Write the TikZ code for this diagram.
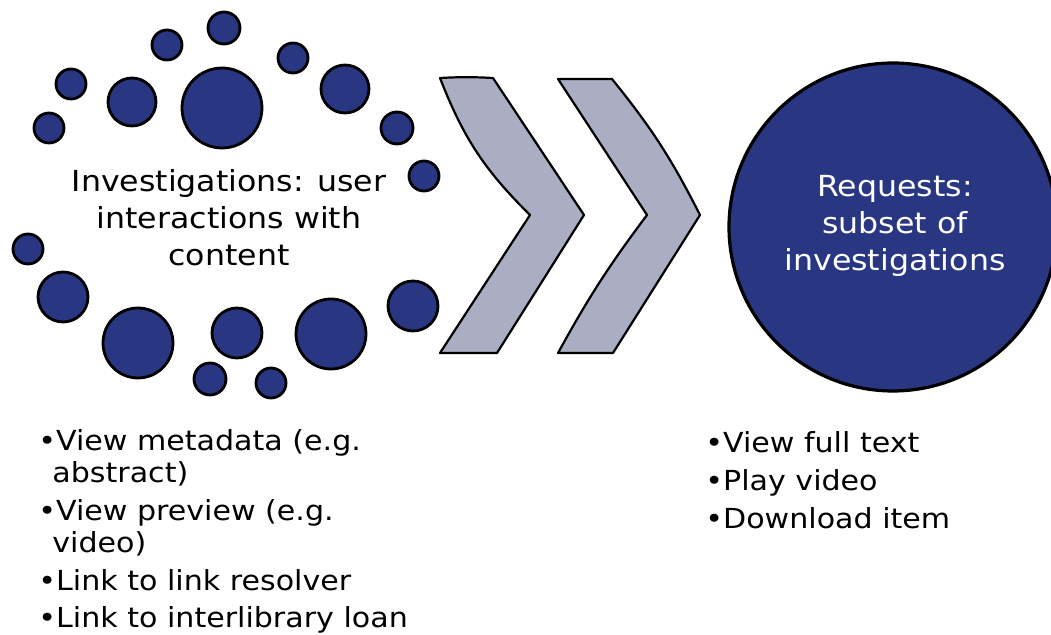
\documentclass[tikz,border=0pt]{standalone}
\usepackage{fontspec}
\setmainfont{DejaVu Sans}[FakeStretch=1.09]
\definecolor{dotblue}{HTML}{293783}
\definecolor{chevgrey}{HTML}{ABAEC3}
\tikzset{
  dot/.style={circle, draw=black, line width=1.4pt, fill=dotblue, inner sep=0pt, minimum size=#1},
  chevron/.style={draw=black, line width=1.1pt, fill=chevgrey, line join=round},
  bigtext/.style={align=center, font=\fontsize{14.5}{18.5}\selectfont},
  listtext/.style={align=left, anchor=north west, inner sep=0pt, font=\fontsize{13.8}{16.2}\selectfont}
}
\begin{document}
\begin{tikzpicture}[x=0.5pt, y=-0.5pt]
\useasboundingbox (0,0) rectangle (1051,635);
\node[dot=16pt] (d1) at (224,28) {};
\node[dot=15pt] (d2) at (167,45) {};
\node[dot=15pt] (d3) at (71,84) {};
\node[dot=15pt] (d4) at (49,128) {};
\node[dot=24pt] (d5) at (132,102) {};
\node[dot=40pt] (d6) at (222,108) {};
\node[dot=15pt] (d7) at (293,58) {};
\node[dot=24pt] (d8) at (345,89) {};
\node[dot=16pt] (d9) at (397,128) {};
\node[dot=15pt] (d10) at (424,176) {};
\node[dot=15pt] (d11) at (28,249) {};
\node[dot=25pt] (d12) at (63,297) {};
\node[dot=35pt] (d13) at (138,343) {};
\node[dot=25pt] (d14) at (237,333) {};
\node[dot=16pt] (d15) at (210,379) {};
\node[dot=15pt] (d16) at (271,383) {};
\node[dot=35pt] (d17) at (331,334) {};
\node[dot=25pt] (d18) at (413,306) {};
\node[bigtext] (inv) at (229,218) {Investigations: user\\interactions with\\content};
\draw[chevron] (440,78) to[bend left=3] (493,78) -- (584,215) -- (497,353) -- (440,353) -- (530,215) to[bend left=12] cycle;
\draw[chevron] (558,79) -- (612,79) to[bend left=6] (700,215) -- (613,353) -- (558,353) to[bend left=4] (647,215) -- cycle;
\node[circle, fill=dotblue, draw=black, line width=1.6pt, minimum size=164pt, inner sep=0pt] (req) at (893,227) {};
\node[bigtext, text=white] (reqtext) at (895,226) {Requests:\\subset of\\investigations};
\node[listtext] (invlist) at (38,429) {•View metadata (e.g.\\\hspace*{7pt}abstract)\\[2.6pt]•View preview (e.g.\\\hspace*{7pt}video)\\[2.6pt]•Link to link resolver\\[2.6pt]•Link to interlibrary loan};
\node[listtext, font=\fontsize{13.8}{19}\selectfont] (reqlist) at (705,431) {•View full text\\•Play video\\•Download item};
\end{tikzpicture}
\end{document}
